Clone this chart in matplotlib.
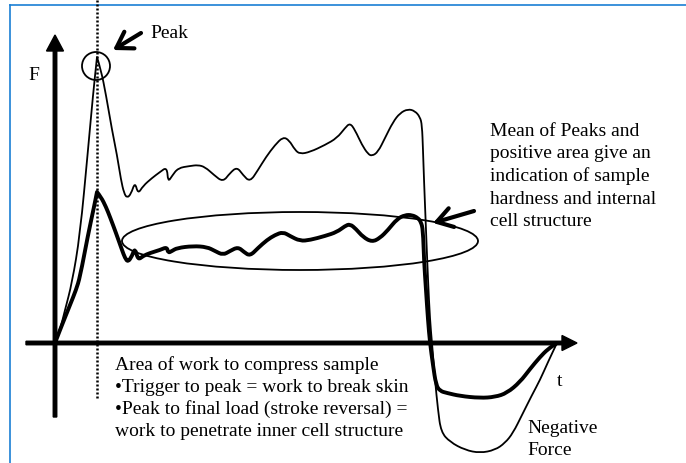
import matplotlib.pyplot as plt
from matplotlib.patches import Ellipse, Circle, PathPatch
from matplotlib.path import Path

# schematic in pixel units (y grows downwards)
thin_x = [55, 60, 65, 72, 80, 88, 93, 97, 101, 106, 112, 117, 121, 124, 127, 131, 135, 138,
          143, 152, 160, 167, 168, 172, 178, 190, 198, 205, 214, 223, 230, 237, 243, 250,
          258, 266, 275, 283, 289, 295, 300, 310, 325, 337, 345, 350, 355, 362, 368, 372,
          378, 385, 393, 400, 408, 415, 420, 422, 423, 424, 426, 428, 430, 432, 435, 438,
          441, 450, 465, 480, 495, 505, 513, 522, 532, 540, 548, 557]
thin_y = [343, 330, 310, 283, 235, 150, 95, 57, 70, 95, 130, 155, 180, 193, 198, 194, 182, 194,
          186, 178, 172, 167, 182, 176, 168, 166, 165, 167, 175, 182, 173, 167, 175, 182,
          170, 157, 145, 137, 140, 150, 154, 152, 145, 138, 128, 123, 130, 145, 154, 156,
          152, 138, 122, 113, 109, 111, 117, 125, 150, 180, 230, 280, 320, 343, 380, 410,
          432, 442, 450, 453, 450, 443, 433, 415, 395, 380, 362, 343]

thick_x = [55, 60, 64, 70, 76, 80, 88, 94, 97, 101, 106, 110, 116, 122, 125, 128, 132, 135,
           138, 143, 150, 160, 167, 168, 172, 177, 193, 207, 215, 223, 230, 238, 244, 250,
           258, 267, 275, 283, 290, 300, 310, 325, 337, 345, 350, 356, 363, 372, 380, 388,
           397, 405, 412, 418, 421, 423, 424, 426, 428, 430, 433, 436, 440, 447, 460, 480,
           495, 507, 520, 530, 540, 548, 557]
thick_y = [343, 330, 320, 305, 290, 277, 235, 207, 192, 197, 207, 217, 233, 250, 258, 262, 256, 248,
           260, 256, 253, 250, 247, 253, 251, 248, 246, 247, 251, 255, 251, 247, 252, 256,
           248, 240, 235, 232, 236, 241, 240, 236, 232, 226, 224, 229, 237, 242, 238, 230,
           219, 215, 215, 218, 222, 230, 260, 290, 320, 343, 365, 385, 391, 393, 396, 398,
           397, 393, 382, 369, 357, 349, 343]

note_right = ["Mean of Peaks and", "positive area give an", "indication of sample",
              "hardness and internal", "cell structure"]
note_bottom = ["Area of work to compress sample",
               "\u2022Trigger to peak = work to break skin",
               "\u2022Peak to final load (stroke reversal) =",
               "work to penetrate inner cell structure"]


def smooth_path(xs, ys, corners=()):
    # quadratic b-spline through the midpoints, sharp at the corner indices
    pts = list(zip(xs, ys))
    verts = [pts[0]]
    codes = [Path.MOVETO]
    for i in range(1, len(pts) - 1):
        if i in corners:
            verts.append(pts[i])
            codes.append(Path.LINETO)
        else:
            nx = (pts[i][0] + pts[i + 1][0]) / 2
            ny = (pts[i][1] + pts[i + 1][1]) / 2
            verts += [pts[i], (nx, ny)]
            codes += [Path.CURVE3, Path.CURVE3]
    verts.append(pts[-1])
    codes.append(Path.LINETO)
    return Path(verts, codes)


plt.rcParams['font.family'] = ['Liberation Serif', 'DejaVu Serif']

fig = plt.figure(figsize=(6.86, 4.63), dpi=100)
ax = fig.add_axes([0, 0, 1, 1])
ax.set_xlim(0, 686)
ax.set_ylim(463, 0)
ax.axis('off')

# blue frame
blue = '#1a7fd4'
ax.plot([10, 10], [463, 5], color=blue, lw=1.2)
ax.plot([10, 686], [5, 5], color=blue, lw=1.2)

# axes arrows
ax.arrow(55, 417, 0, -382, width=3.5, head_width=17, head_length=16,
         length_includes_head=True, color='k')
ax.arrow(26, 343, 551, 0, width=3.5, head_width=15, head_length=15,
         length_includes_head=True, color='k')

# dotted line through the peak
ax.plot([97, 97], [0, 399], color='k', lw=1.8, linestyle=(0, (0.8, 0.8)))

ax.add_patch(PathPatch(smooth_path(thin_x, thin_y, corners=(7,)), fill=False,
                       lw=1.3, edgecolor='k', joinstyle='round'))
ax.add_patch(PathPatch(smooth_path(thick_x, thick_y, corners=(8,)), fill=False,
                       lw=2.8, edgecolor='k', joinstyle='round', capstyle='round'))

ax.add_patch(Ellipse((300, 241), 356, 58, fill=False, lw=1.3, color='k'))
ax.add_patch(Circle((96, 66), 14, fill=False, lw=1.3, color='k'))

arrow_kw = dict(arrowstyle='->,head_length=0.55,head_width=0.35', lw=3, color='k',
                mutation_scale=20, shrinkA=0, shrinkB=0)
ax.annotate('', xy=(113, 50), xytext=(141, 33), arrowprops=arrow_kw)
ax.annotate('', xy=(433, 223), xytext=(474, 211), arrowprops=arrow_kw)

fs = 14
ax.text(150, 38, "Peak", fontsize=fs, va='baseline')
ax.text(28, 80, "F", fontsize=fs, va='baseline')
ax.text(557, 386, "t", fontsize=fs, va='baseline')
ax.text(527, 433, "Negative", fontsize=fs, va='baseline')
ax.text(527, 455, "Force", fontsize=fs, va='baseline')
for i, line in enumerate(note_right):
    ax.text(490, 136 + 22.5 * i, line, fontsize=fs, va='baseline')
for i, line in enumerate(note_bottom):
    ax.text(115, 370 + 22 * i, line, fontsize=fs, va='baseline')

fig.savefig('out.png', dpi=100)
